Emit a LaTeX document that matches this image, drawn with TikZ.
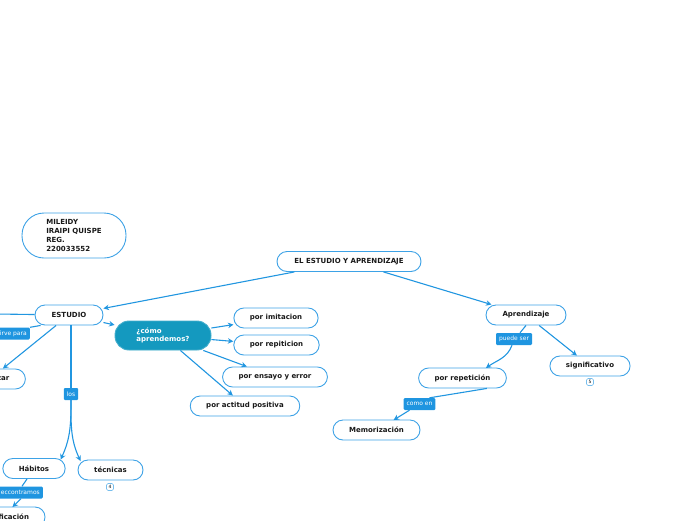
\documentclass[tikz,border=0pt]{standalone}
\usepackage{fontspec}
\setmainfont{DejaVu Sans}
\usetikzlibrary{arrows.meta}
\definecolor{lineblue}{HTML}{2196E0}
\definecolor{nodeblue}{HTML}{3DA2E6}
\definecolor{tealfill}{HTML}{1499BF}
\definecolor{labelfill}{HTML}{1F95E0}
\tikzset{
  box/.style={draw=nodeblue, line width=0.9pt, rounded corners=10pt, fill=white,
    font=\bfseries\fontsize{7}{9}\selectfont, minimum height=20pt, inner xsep=16pt, inner ysep=2pt, text=black!90},
  tealbox/.style={fill=tealfill, draw=tealfill!80!white, line width=0.9pt, rounded corners=14pt, text=white,
    font=\bfseries\fontsize{7}{8.5}\selectfont, align=left, minimum height=29pt, minimum width=96pt},
  tag/.style={fill=labelfill, text=white, rounded corners=1.2pt, font=\fontsize{6}{7}\selectfont,
    inner xsep=3pt, inner ysep=0pt, minimum height=12pt},
  badge/.style={draw=nodeblue!70, line width=0.6pt, fill=white, rounded corners=1.5pt,
    font=\fontsize{4.5}{5}\selectfont, inner sep=0.5pt, minimum size=7pt},
  conn/.style={draw=lineblue, line width=1.1pt},
  arr/.style={conn, -{Stealth[length=5.5pt,width=5.5pt]}}
}
\begin{document}
\begin{tikzpicture}[x=1pt,y=-1pt]
\useasboundingbox (0,0) rectangle (696,520);
% nodes
\node[box, rounded corners=22pt, minimum width=104pt, minimum height=45pt, align=left, inner ysep=4pt] (author) at (74,235.5)
  {MILEIDY\\IRAIPI QUISPE\\REG.\\220033552};
\node[box, minimum width=144pt] (main) at (349,261.5) {EL ESTUDIO Y APRENDIZAJE};
\node[box, minimum width=68pt] (estudio) at (69,315) {ESTUDIO};
\node[tealbox] (como) at (163,335.5) {¿cómo\\aprendemos?};
\node[box, minimum width=84pt] (imit) at (276,318) {por imitacion};
\node[box, minimum width=85pt] (repit) at (276.5,345) {por repiticion};
\node[box, minimum width=104pt] (ensayo) at (275,377) {por ensayo y error};
\node[box, minimum width=108pt] (actitud) at (245,406) {por actitud positiva};
\node[box, minimum width=80pt] (aprend) at (526,315) {Aprendizaje};
\node[box, minimum width=80pt] (signif) at (590,366) {significativo};
\node[badge] (b5) at (590,382) {5};
\node[box, minimum width=87pt] (porrep) at (462.5,378) {por repetición};
\node[box, minimum width=87pt] (memo) at (376.5,430) {Memorización};
\node[box, minimum width=62pt] (habitos) at (34,468.5) {Hábitos};
\node[box, minimum width=65pt] (tecnicas) at (110.5,470) {técnicas};
\node[badge] (b4) at (110,487) {4};
\node[box] (zar) at (-10,379) {Organizar};
\node[box] (planif) at (4,517) {Planificación};
\coordinate (offL) at (-40,313.5);
\coordinate (offS) at (-40,336);
% labels
\node[tag, anchor=east] (sirve) at (30,333.5) {sirve para};
\node[tag] (los) at (71,394) {los};
\node[tag] (puede) at (514,339) {puede ser};
\node[tag] (comoen) at (419.5,404) {como en};
\node[tag, anchor=east] (encon) at (43,492.5) {eccontramos};
% connectors
\draw[arr] (main) -- (estudio);
\draw[arr] (main) -- (aprend);
\draw[arr] (estudio) -- (como);
\draw[arr] (como) -- (imit);
\draw[arr] (como) -- (repit);
\draw[arr] (como) -- (ensayo);
\draw[arr] (como) -- (actitud);
\draw[conn] (estudio) -- (offL);
\draw[conn] ([xshift=6pt]estudio.south west) -- (sirve.north east);
\draw[conn] (sirve) -- (offS);
\draw[arr] (estudio) -- (zar);
\draw[conn] ([xshift=2pt]estudio.south) -- (los.north);
\draw[arr] (los.south) to[out=-90,in=65] ([xshift=-5pt,yshift=-1.5pt]habitos.north east);
\draw[arr] (los.south) to[out=-90,in=115] ([xshift=3pt,yshift=-1.5pt]tecnicas.north west);
\draw[conn] ([xshift=-7pt]habitos.south) -- ([xshift=-21pt]encon.north east);
\draw[arr] ([xshift=-22pt]encon.south east) -- ([xshift=-33pt,yshift=-0.5pt]planif.north east);
\draw[conn] (aprend.south) -- ([xshift=6pt]puede.north);
\draw[arr] ([xshift=-2pt]puede.south) to[out=-110,in=35] ([xshift=-21pt,yshift=-0.5pt]porrep.north east);
\draw[arr] (aprend) -- (signif);
\draw[conn] ([xshift=-20pt]porrep.south east) -- ([xshift=10pt]comoen.north);
\draw[arr] ([xshift=-10pt]comoen.south) -- ([xshift=61pt,yshift=-0.5pt]memo.north west);
\end{tikzpicture}
\end{document}
